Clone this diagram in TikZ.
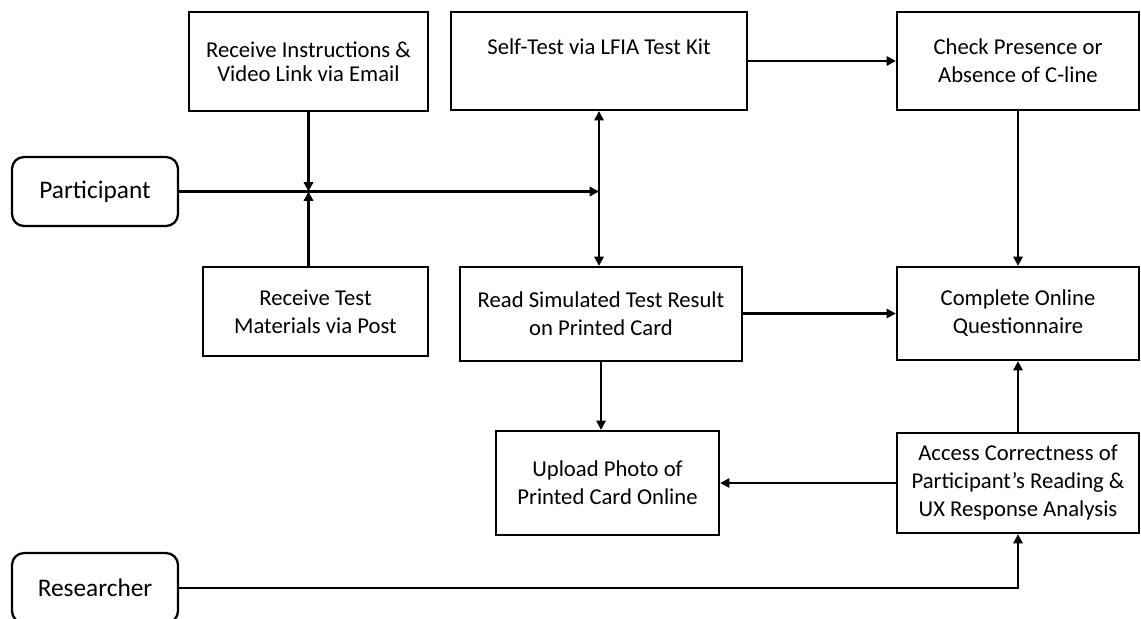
\documentclass[tikz,border=0pt]{standalone}
\usepackage{fontspec}
\setmainfont{Carlito}
\usetikzlibrary{arrows.meta}
\begin{document}
\begin{tikzpicture}[x=0.75pt,y=-0.75pt,
  box/.style={draw, line width=1.7pt, inner sep=0pt, align=center,
    font=\fontsize{17}{21}\selectfont},
  actor/.style={box, rounded corners=9pt, font=\fontsize{19}{22}\selectfont},
  conn/.style={line width=1.6pt, -{Triangle[length=7pt,width=7pt]}},
  biconn/.style={line width=1.6pt, {Triangle[length=7pt,width=7pt]}-{Triangle[length=7pt,width=7pt]}}]
\clip (0,0) rectangle (1141,618);
\fill[white] (0,0) rectangle (1141,618);
\node[box, minimum width=179.25pt, minimum height=74.25pt, font=\fontsize{17}{18}\selectfont] (instr) at (308.5,61.5) {Receive Instructions \&\\Video Link via Email};
\node[box, minimum width=222pt, minimum height=73.5pt] (self) at (599,61) {Self-Test via LFIA Test Kit\\\mbox{}};
\node[box, minimum width=181.5pt, minimum height=73.5pt] (check) at (1018,61) {Check Presence or\\Absence of C-line};
\node[actor, minimum width=124.5pt, minimum height=51.75pt] (part) at (95,191.5) {Participant};
\node[box, minimum width=168.75pt, minimum height=66.75pt] (recv) at (315.5,311.5) {Receive Test\\Materials via Post};
\node[box, minimum width=211.5pt, minimum height=70.5pt] (read) at (601,314) {Read Simulated Test Result\\on Printed Card};
\node[box, minimum width=181.5pt, minimum height=69.75pt] (complete) at (1018,313.5) {Complete Online\\Questionnaire};
\node[box, minimum width=167.25pt, minimum height=78pt] (upload) at (607.5,483) {Upload Photo of\\Printed Card Online};
\node[box, minimum width=181.5pt, minimum height=75pt] (access) at (1018,483) {Access Correctness of\\Participant’s Reading \&\\UX Response Analysis};
\node[actor, minimum width=124.5pt, minimum height=52.5pt] (res) at (95,588) {Researcher};
% connectors
\draw[conn] (instr.south) -- (instr.south |- part.east);
\draw[conn] (recv.north -| instr.south) -- (instr.south |- part.east);
\draw[conn] (part.east) -- (part.east -| self.south);
\draw[biconn] (self.south) -- (self.south |- read.north);
\draw[conn] (self.east) -- (check.west);
\draw[conn] (check.south) -- (complete.north);
\draw[conn] (read.east |- complete.west) -- (complete.west);
\draw[conn] (read.south) -- (read.south |- upload.north);
\draw[conn] (access.west) -- (upload.east |- access.west);
\draw[conn] (access.north) -- (complete.south);
\draw[conn] (res.east) -| (access.south);
\end{tikzpicture}
\end{document}
